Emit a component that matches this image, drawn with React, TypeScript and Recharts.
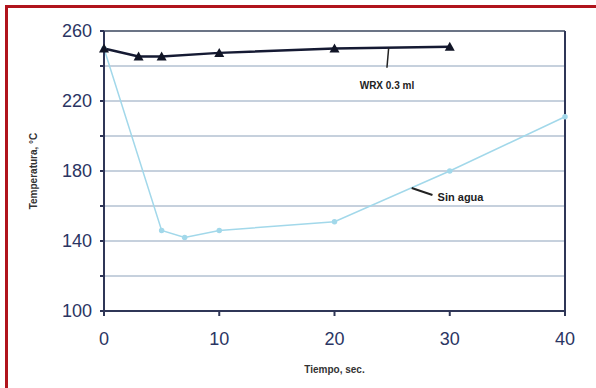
import React from 'react';
import {
  LineChart,
  Line,
  XAxis,
  YAxis,
  CartesianGrid,
  ReferenceLine,
  ReferenceDot,
} from 'recharts';

// time (s) / temperature (°C)
const wrxTime = [0, 3, 5, 10, 20, 30];
const wrxTemp = [250, 245.5, 245.5, 247.5, 250, 251];

const dryTime = [0, 5, 7, 10, 20, 30, 40];
const dryTemp = [250, 146, 142, 146, 151, 180, 211];

const xTicks = [0, 10, 20, 30, 40];
const yTicks = [100, 120, 140, 160, 180, 200, 220, 240, 260];

const wrxData = wrxTime.map((t, i) => ({ t, wrx: wrxTemp[i] }));
const dryData = dryTime.map((t, i) => ({ t, dry: dryTemp[i] }));

const axisColor = '#2f3657';
const tickStyle = { fontSize: 18, fill: '#2b3563', fontFamily: 'Liberation Sans, Arial, sans-serif' };

const Triangle = (props: any) => {
  const { cx, cy, index } = props;
  if (cx == null || cy == null) return null;
  return (
    <polygon
      key={`tri-${index}`}
      points={`${cx},${cy - 5} ${cx - 5},${cy + 4} ${cx + 5},${cy + 4}`}
      fill="#111526"
    />
  );
};

export default function App() {
  return (
    <div
      style={{
        position: 'absolute',
        left: 0,
        top: 0,
        width: 596,
        height: 388,
        background: '#fff',
        fontFamily: 'Liberation Sans, Arial, sans-serif',
      }}
    >
      <div
        style={{
          position: 'absolute',
          left: 5,
          top: 5,
          right: 0,
          bottom: 0,
          borderTop: '3px solid #b0141c',
          borderLeft: '3px solid #b0141c',
        }}
      />
      <div style={{ position: 'absolute', left: 0, top: 0 }}>
        <LineChart width={596} height={388} margin={{ top: 31, right: 31, left: 0, bottom: 11 }}>
          <CartesianGrid horizontal vertical={false} stroke="#8da2bb" strokeWidth={1} />
          <XAxis
            type="number"
            dataKey="t"
            domain={[0, 40]}
            ticks={xTicks}
            allowDuplicatedCategory={false}
            height={66}
            tickSize={5}
            tickMargin={16}
            tick={tickStyle}
            stroke={axisColor}
            strokeWidth={2}
            label={{
              value: 'Tiempo, sec.',
              position: 'insideBottom',
              offset: 4,
              style: { fontSize: 10, fill: '#333', fontWeight: 'bold' },
            }}
          />
          <YAxis
            type="number"
            domain={[100, 260]}
            ticks={yTicks}
            width={104}
            tickSize={4}
            tickMargin={8}
            tick={tickStyle}
            tickFormatter={(v: number) => ((v - 100) % 40 === 0 ? String(v) : '')}
            stroke={axisColor}
            strokeWidth={2}
            label={{
              value: 'Temperatura, °C',
              angle: -90,
              position: 'insideLeft',
              offset: 33,
              style: { fontSize: 10, fill: '#333', fontWeight: 'bold', textAnchor: 'middle' },
            }}
          />
          <ReferenceLine y={260} stroke="#6b7486" strokeWidth={2} />
          <ReferenceLine x={40} stroke={axisColor} strokeWidth={2} />
          <Line
            data={dryData}
            dataKey="dry"
            type="linear"
            stroke="#a2d8ea"
            strokeWidth={1.5}
            dot={{ r: 2, fill: '#a2d8ea', stroke: '#a2d8ea' }}
            isAnimationActive={false}
          />
          <Line
            data={wrxData}
            dataKey="wrx"
            type="linear"
            stroke="#151a33"
            strokeWidth={2.5}
            dot={Triangle}
            isAnimationActive={false}
          />
          <ReferenceLine
            segment={[
              { x: 24.7, y: 250.3 },
              { x: 24.55, y: 239 },
            ]}
            stroke="#222"
            strokeWidth={1.5}
          />
          <ReferenceDot
            x={24.55}
            y={229}
            r={0}
            stroke="none"
            label={{ value: 'WRX 0.3 ml', position: 'center', style: { fontSize: 10, fill: '#222', fontWeight: 'bold' } }}
          />
          <ReferenceLine
            segment={[
              { x: 26.7, y: 170.3 },
              { x: 28.5, y: 166.3 },
            ]}
            stroke="#222"
            strokeWidth={2}
          />
          <ReferenceDot
            x={28.6}
            y={165}
            r={0}
            stroke="none"
            label={{ value: 'Sin agua', position: 'right', offset: 4, style: { fontSize: 11, fill: '#222', fontWeight: 'bold' } }}
          />
        </LineChart>
      </div>
    </div>
  );
}
